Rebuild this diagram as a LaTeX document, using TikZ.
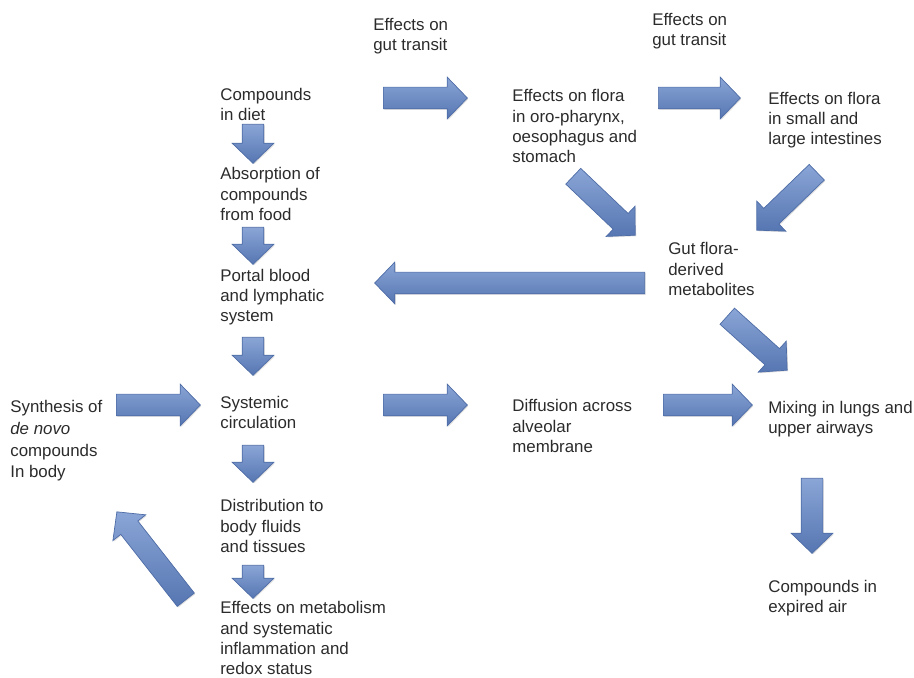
\documentclass[tikz,border=0pt]{standalone}
\usepackage{fontspec}
\setmainfont{Liberation Sans}
\usetikzlibrary{calc,shapes.arrows,shadows}
\definecolor{arrowTop}{HTML}{8AA5D6}
\definecolor{arrowBot}{HTML}{5676B2}
\definecolor{arrowEdge}{HTML}{4E6CA6}
\definecolor{txtGray}{HTML}{2B2B2B}

% block arrow from tail coordinate to tip coordinate
\newcommand{\flowarrow}[2]{%
  \path let \p1=(#1), \p2=(#2),
    \n1={veclen(\x2-\x1,\y2-\y1)}, \n2={atan2(\y2-\y1,\x2-\x1)} in
    node[blockarrow, minimum height=\n1, rotate=\n2, anchor=tail] at (#1) {};}

\begin{document}
\begin{tikzpicture}[x=0.02cm, y=-0.02cm,
  lbl/.style={anchor=west, align=left, inner sep=0pt, text=txtGray,
    font=\fontsize{9.6}{11.4}\selectfont},
  blockarrow/.style={single arrow, draw=arrowEdge, line width=0.4pt,
    top color=arrowTop, bottom color=arrowBot,
    single arrow head extend=0.2cm, single arrow tip angle=92,
    single arrow head indent=0pt, inner xsep=0pt, inner ysep=0.21cm,
    drop shadow={shadow xshift=0.6pt, shadow yshift=-0.6pt, opacity=0.25}}
]
\useasboundingbox (0,0) rectangle (914,678);

% texts
\node[lbl] (gutA) at (373,36) {Effects on\\gut transit};
\node[lbl] (gutB) at (652,31) {Effects on\\gut transit};
\node[lbl] (diet) at (220,104) {Compounds\\in diet};
\node[lbl] (oro) at (512,126) {Effects on flora\\in oro-pharynx,\\oesophagus and\\stomach};
\node[lbl] (small) at (768,120) {Effects on flora\\in small and\\large intestines};
\node[lbl] (absorb) at (220,194) {Absorption of\\compounds\\from food};
\node[lbl] (flora) at (668,269) {Gut flora-\\derived\\metabolites};
\node[lbl] (portal) at (220,297) {Portal blood\\and lymphatic\\system};
\node[lbl] (systemic) at (220,412) {Systemic\\circulation};
\node[lbl] (diffusion) at (512,426) {Diffusion across\\alveolar\\membrane};
\node[lbl] (mixing) at (768,419) {Mixing in lungs and\\upper airways};
\node[lbl, font=\fontsize{9.6}{12.3}\selectfont] (synth) at (10,441) {Synthesis of\\\textit{de novo}\\compounds\\In body};
\node[lbl] (distrib) at (220,526) {Distribution to\\body fluids\\and tissues};
\node[lbl] (metab) at (220,638) {Effects on metabolism\\and systematic\\inflammation and\\redox status};
\node[lbl] (expired) at (768,598) {Compounds in\\expired air};

% arrows: name / tail / tip
\foreach \nm/\xa/\ya/\xb/\yb in {
    transA/383/98/467/98, transB/658/98/740/98,
    dietdn/253/124/253/163, absdn/253/227/253/264,
    portdn/253/337/253/375, sysdn/253/445/253/482,
    distdn/253/565/253/598,
    back/645/283/375/283,
    oroflora/573/176/635/235, smallflora/817/172/757/230,
    floramix/727/316/787/370,
    synsys/116/405/200/405, sysdiff/383/405/467/405,
    diffmix/663/405/752/405, mixexp/812/478/812/553,
    metsyn/186/600/117/512}{
  \coordinate (\nm-t) at (\xa,\ya);
  \coordinate (\nm-h) at (\xb,\yb);
  \flowarrow{\nm-t}{\nm-h}
}
\end{tikzpicture}
\end{document}
